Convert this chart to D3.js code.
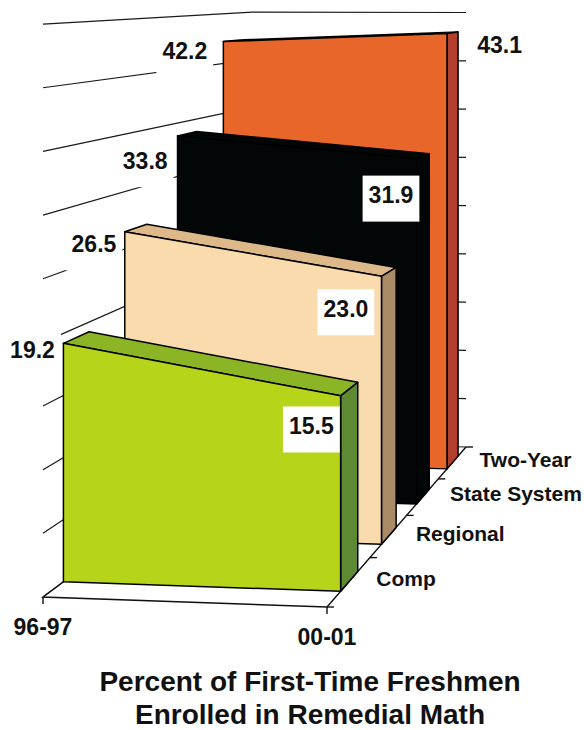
<!DOCTYPE html>
<html>
<head>
<meta charset="utf-8">
<script src="https://cdn.jsdelivr.net/npm/d3@7"></script>
<style>
  html, body { margin: 0; padding: 0; background: #fff; }
  svg { display: block; font-family: "Liberation Sans", Arial, sans-serif; font-weight: bold; }
</style>
</head>
<body>
<svg id="chart" width="584" height="730"></svg>
<script>
// ---- data ----
const periods = ["96-97", "00-01"];
const seriesNames = ["Comp", "Regional", "State System", "Two-Year"];
const values9697 = [19.2, 26.5, 33.8, 42.2];
const values0001 = [15.5, 23.0, 31.9, 43.1];
const valueMax = 45;
const titleLines = ["Percent of First-Time Freshmen", "Enrolled in Remedial Math"];

// ---- styles: front face, top face, side face ----
const frontColors = ["#b6d419", "#f9dbae", "#030607", "#e8662a"];
const topColors   = ["#8cb526", "#ddb98a", "#030607", "#c34a2a"];
const sideColors  = ["#5e8a33", "#a98b68", "#030607", "#b23f2b"];

// ---- layout: floor corners on screen (front-left, front-right, back-right, back-left) ----
const floorQuad = [[43, 597], [327, 607], [466, 447], [252, 441]];
const horizonY = -24;      // verticals stay vertical, heights shrink toward horizon
const riseK = 0.0205;      // px of rise per value unit per px below horizon
// label nudges (text centre relative to projected anchor)
const leftNudge  = [[-44, 12], [-42, 16], [-42, 27], [-47, 10]];
const rightNudge = [[-38, 37], [-43, 37], [-32, 39], [47, 12]];

const svg = d3.select("#chart");

// unit square (X along periods, Z along depth) -> floor quad on screen
function squareToQuad(q) {
  const [[x0, y0], [x1, y1], [x2, y2], [x3, y3]] = q;
  const dx1 = x1 - x2, dx2 = x3 - x2, dx3 = x0 - x1 + x2 - x3;
  const dy1 = y1 - y2, dy2 = y3 - y2, dy3 = y0 - y1 + y2 - y3;
  const den = dx1 * dy2 - dx2 * dy1;
  const g = (dx3 * dy2 - dx2 * dy3) / den, h = (dx1 * dy3 - dx3 * dy1) / den;
  const a = x1 - x0 + g * x1, b = x3 - x0 + h * x3;
  const d = y1 - y0 + g * y1, e = y3 - y0 + h * y3;
  return (u, v) => {
    const w = g * u + h * v + 1;
    return [(a * u + b * v + x0) / w, (d * u + e * v + y0) / w];
  };
}
const ground = squareToQuad(floorQuad);

const x = d3.scalePoint().domain(periods).range([0, 1]);
const z = d3.scaleBand().domain(seriesNames).range([0, 1]);
const y = d3.scaleLinear().domain([0, valueMax]).range([0, valueMax * riseK]);

// project (X, value, Z) to screen
function P(X, v, Z) {
  const [gx, gy] = ground(X, Z);
  return [gx, gy - y(v) * (gy - horizonY)];
}
const poly = pts => d3.line()(pts) + "Z";
const seg = pts => d3.line()(pts);

// ---- floor ----
svg.append("path")
  .attr("d", poly([P(0, 0, 0), P(1, 0, 0), P(1, 0, 1), P(0, 0, 1)]))
  .attr("fill", "#fff");

// ---- walls: gridlines on left wall and back wall ----
const ticks = y.ticks(9);
const grid = svg.append("g").attr("stroke", "#1a1a1a").attr("stroke-width", 1.2).attr("fill", "none");
ticks.forEach(t => {
  grid.append("path").attr("d", seg([P(0, t, 0), P(0, t, 1), P(1, t, 1)]));
});

// ---- floor edges and ticks ----
const edges = svg.append("g").attr("stroke", "#111").attr("stroke-width", 1.4).attr("fill", "none");
edges.append("path").attr("d", seg([P(0, 0, 1), P(0, 0, 0), P(1, 0, 0), P(1, 0, 1)]));
periods.forEach(p => {
  const [px, py] = P(x(p), 0, 0);
  edges.append("path").attr("d", seg([[px, py], [px, py + 7]]));
});
d3.range(seriesNames.length + 1).forEach(i => {
  const [px, py] = P(1, 0, i * z.bandwidth());
  edges.append("path").attr("d", seg([[px, py], [px + 7, py]]));
});

// ---- series prisms, back to front ----
const body = d3.range(seriesNames.length).reverse();
body.forEach(i => {
  const s = seriesNames[i];
  const z0 = z(s) + z.bandwidth() * 0.3, z1 = z(s) + z.bandwidth() * 0.7;
  const v0 = values9697[i], v1 = values0001[i];
  const g = svg.append("g").attr("stroke", "#000").attr("stroke-width", 1.5).attr("stroke-linejoin", "round");
  g.append("path").attr("fill", topColors[i])
    .attr("d", poly([P(0, v0, z0), P(1, v1, z0), P(1, v1, z1), P(0, v0, z1)]));
  g.append("path").attr("fill", sideColors[i])
    .attr("d", poly([P(1, 0, z0), P(1, v1, z0), P(1, v1, z1), P(1, 0, z1)]));
  g.append("path").attr("fill", frontColors[i])
    .attr("d", poly([P(0, 0, z0), P(1, 0, z0), P(1, v1, z0), P(0, v0, z0)]));
});

// ---- value labels ----
const fmt = d3.format(".1f");
function valueLabel(cx, cy, txt) {
  const g = svg.append("g");
  const rect = g.append("rect").attr("fill", "#fff");
  const t = g.append("text").attr("x", cx).attr("y", cy + 8.2)
    .attr("text-anchor", "middle").attr("font-size", 23).attr("fill", "#111").text(txt);
  const w = t.node().getComputedTextLength();
  rect.attr("x", cx - w / 2 - 6).attr("y", cy + 3.5 - 23).attr("width", w + 12).attr("height", 46);
}
seriesNames.forEach((s, i) => {
  const zc = z(s) + z.bandwidth() / 2;
  const a = P(0, values9697[i], zc);
  valueLabel(a[0] + leftNudge[i][0], a[1] + leftNudge[i][1], fmt(values9697[i]));
  const b = P(1, values0001[i], zc);
  valueLabel(b[0] + rightNudge[i][0], b[1] + rightNudge[i][1], fmt(values0001[i]));
});

// ---- category labels ----
svg.append("g").selectAll("text").data(periods).join("text")
  .attr("x", d => P(x(d), 0, 0)[0])
  .attr("y", d => P(x(d), 0, 0)[1] + 38)
  .attr("text-anchor", "middle").attr("font-size", 23).attr("fill", "#111")
  .text(d => d);

// ---- series labels along depth ----
svg.append("g").selectAll("text").data(seriesNames).join("text")
  .attr("x", d => P(1, 0, z(d) + z.bandwidth() / 2)[0] + 27)
  .attr("y", d => P(1, 0, z(d) + z.bandwidth() / 2)[1] + 5)
  .attr("font-size", 21).attr("fill", "#111")
  .text(d => d);

// ---- title ----
svg.append("g").selectAll("text").data(titleLines).join("text")
  .attr("x", 310).attr("y", (d, i) => 691 + i * 33)
  .attr("text-anchor", "middle").attr("font-size", 28).attr("fill", "#111")
  .text(d => d);
</script>
</body>
</html>
